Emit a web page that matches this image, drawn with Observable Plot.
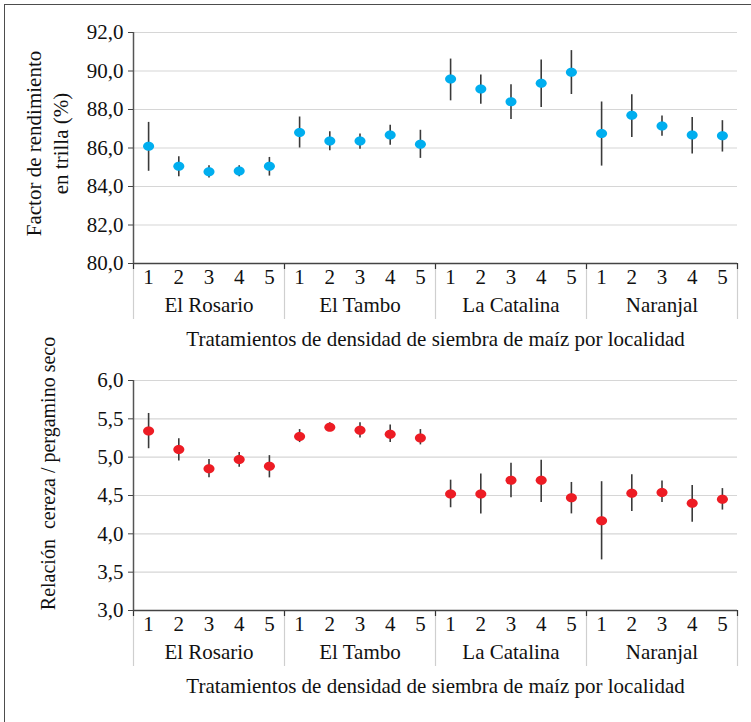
<!DOCTYPE html>
<html>
<head>
<meta charset="utf-8">
<script src="https://cdn.jsdelivr.net/npm/d3@7"></script>
<script src="https://cdn.jsdelivr.net/npm/@observablehq/plot@0.6"></script>
<style>
  html, body { margin: 0; padding: 0; background: #fff; }
  #page { position: relative; width: 751px; height: 722px; overflow: hidden; }
  #frame { position: absolute; left: 4px; top: 4px; width: 760px; height: 740px;
           border-left: 1.5px solid #4d4d4d; border-top: 1.5px solid #4d4d4d; }
  #top, #bottom { position: absolute; left: 0; }
  #top { top: 0; }
  #bottom { top: 340px; }
  #page svg { overflow: visible; }
</style>
</head>
<body>
<div id="page">
  <div id="frame"></div>
  <div id="top"></div>
  <div id="bottom"></div>
</div>
<script>
// ---- data ----
const treatments = [1, 2, 3, 4, 5];
const localities = ["El Rosario", "El Tambo", "La Catalina", "Naranjal"];

const factorMean = [86.09, 85.05, 84.77, 84.80, 85.05, 86.81, 86.36, 86.36, 86.68, 86.19,
                    89.58, 89.06, 88.40, 89.37, 89.93, 86.75, 87.70, 87.14, 86.68, 86.64];
const factorHigh = [87.33, 85.55, 85.08, 85.08, 85.51, 87.61, 86.85, 86.73, 87.18, 86.92,
                    90.62, 89.79, 89.28, 90.57, 91.06, 88.39, 88.76, 87.66, 87.59, 87.42];
const factorLow  = [84.79, 84.51, 84.44, 84.51, 84.54, 86.00, 85.86, 85.93, 86.14, 85.46,
                    88.45, 88.27, 87.48, 88.10, 88.78, 85.06, 86.55, 86.61, 85.69, 85.79];

const relMean = [5.34, 5.10, 4.85, 4.97, 4.88, 5.27, 5.39, 5.35, 5.30, 5.25,
                 4.52, 4.52, 4.70, 4.70, 4.47, 4.17, 4.53, 4.54, 4.40, 4.45];
const relHigh = [5.57, 5.24, 4.97, 5.06, 5.02, 5.36, 5.45, 5.45, 5.42, 5.36,
                 4.70, 4.78, 4.92, 4.96, 4.67, 4.68, 4.77, 4.69, 4.63, 4.59];
const relLow  = [5.11, 4.95, 4.73, 4.87, 4.73, 5.19, 5.34, 5.25, 5.19, 5.16,
                 4.34, 4.26, 4.47, 4.41, 4.26, 3.66, 4.29, 4.41, 4.15, 4.31];

const factorTicks = [80, 82, 84, 86, 88, 90, 92];
const relTicks = [3.0, 3.5, 4.0, 4.5, 5.0, 5.5, 6.0];

const xTitle = "Tratamientos de densidad de siembra de maíz por localidad";
const factorTitle = "Factor de rendimiento\nen trilla (%)";
const relTitle = "Relación  cereza / pergamino seco";

// ---- chart ----
const nT = treatments.length;
const nAll = nT * localities.length;
const fmt = d => d.toFixed(1).replace(".", ",");

// slightly wide ellipse symbol
const ellipse = {
  draw(ctx, size) {
    const r = Math.sqrt(size / Math.PI);
    const rx = r * 1.1, ry = r * 0.9, k = 0.5523;
    ctx.moveTo(rx, 0);
    ctx.bezierCurveTo(rx, ry * k, rx * k, ry, 0, ry);
    ctx.bezierCurveTo(-rx * k, ry, -rx, ry * k, -rx, 0);
    ctx.bezierCurveTo(-rx, -ry * k, -rx * k, -ry, 0, -ry);
    ctx.bezierCurveTo(rx * k, -ry, rx, -ry * k, rx, 0);
    ctx.closePath();
  }
};

function chart({mean, low, high, ticks, color, height, marginTop, marginBottom, yTitle, titleDx, titleDy, titleSize}) {
  const rows = mean.map((m, i) => ({
    i: i + 0.5,
    loc: localities[Math.floor(i / nT)],
    t: treatments[i % nT],
    m, lo: low[i], hi: high[i]
  }));
  const bounds = d3.range(0, nAll + 1, nT);
  const centers = d3.range(nAll).map(i => i + 0.5);
  const groupCenters = localities.map((_, g) => g * nT + nT / 2);
  const ymin = ticks[0], ymax = ticks[ticks.length - 1];
  return Plot.plot({
    width: 751,
    height,
    marginLeft: 133,
    marginRight: 14,
    marginTop,
    marginBottom,
    style: {fontFamily: "Liberation Serif", fontSize: "21px", color: "#111", background: "transparent", overflow: "visible"},
    x: {domain: [0, nAll], axis: null},
    y: {domain: [ymin, ymax], axis: null},
    marks: [
      Plot.gridY(ticks.slice(1), {stroke: "#d6d6d6", strokeOpacity: 1, strokeWidth: 1.2}),
      // group separators below the axis
      Plot.axisX(bounds, {tickSize: 56, stroke: "#cfcfcf", strokeWidth: 1.2, tickFormat: () => "", label: null}),
      Plot.axisX(bounds, {tickSize: 6, stroke: "#333", strokeWidth: 1.2, tickFormat: () => "", label: null}),
      Plot.ruleY([ymin], {stroke: "#444", strokeWidth: 1.5}),
      Plot.ruleX([0], {stroke: "#555", strokeWidth: 1.5}),
      Plot.axisY(ticks, {tickSize: 5, tickPadding: 5, stroke: "#444", tickFormat: fmt, fontSize: 21, label: null}),
      // treatment numbers
      Plot.axisX(centers, {tickSize: 0, tickPadding: 6, tickFormat: d => treatments[Math.floor(d) % nT], fontSize: 21, label: null}),
      // locality names
      Plot.axisX(groupCenters, {tickSize: 0, tickPadding: 34, tickFormat: d => localities[Math.floor(d / nT)], fontSize: 21, label: null}),
      Plot.text([xTitle], {frameAnchor: "bottom", lineAnchor: "top", dy: 68, fontSize: 21, fill: "#111"}),
      Plot.text([yTitle], {frameAnchor: "left", rotate: -90, dx: titleDx, dy: titleDy, textAnchor: "middle", lineAnchor: "middle", lineHeight: 1.28, fontSize: titleSize, fill: "#111"}),
      // error bars and means
      Plot.ruleX(rows, {x: "i", y1: "lo", y2: "hi", stroke: "#3a3a3a", strokeWidth: 1.6}),
      Plot.dot(rows, {x: "i", y: "m", fill: color, r: 5, symbol: ellipse, stroke: "none"})
    ]
  });
}

document.getElementById("top").append(chart({
  mean: factorMean, low: factorLow, high: factorHigh, ticks: factorTicks,
  color: "#00aeef", height: 360, marginTop: 32, marginBottom: 97,
  yTitle: factorTitle, titleDx: -88, titleDy: -4.5, titleSize: 21
}));
document.getElementById("bottom").append(chart({
  mean: relMean, low: relLow, high: relHigh, ticks: relTicks,
  color: "#ed1c24", height: 382, marginTop: 40, marginBottom: 112,
  yTitle: relTitle, titleDx: -87, titleDy: -22, titleSize: 20
}));
</script>
</body>
</html>
